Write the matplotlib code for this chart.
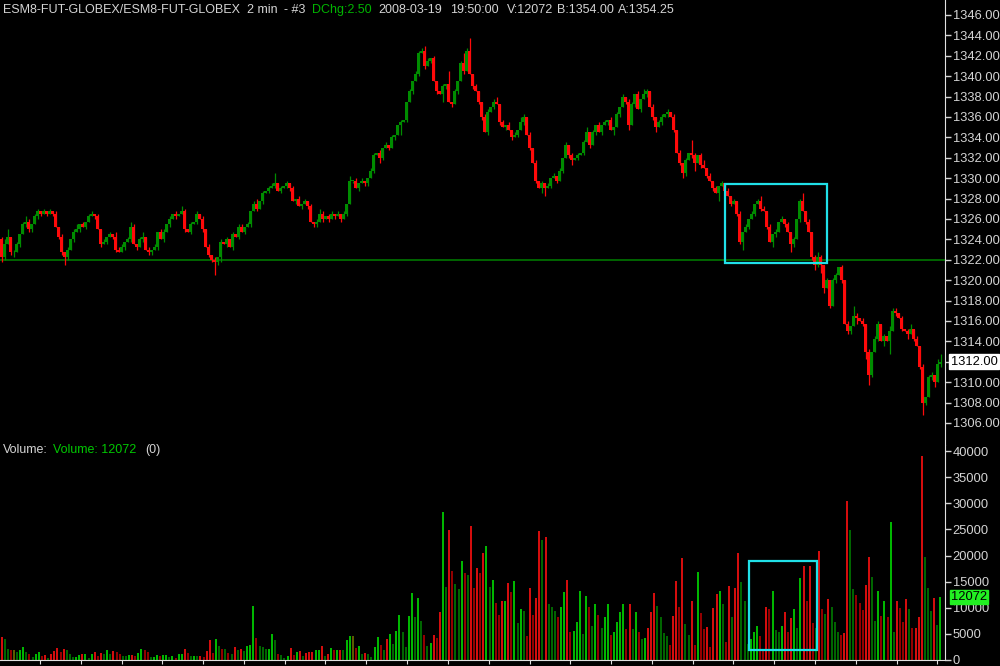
import numpy as np
import matplotlib
matplotlib.use('Agg')
import matplotlib.pyplot as plt
from matplotlib.transforms import blended_transform_factory

plt.rcParams['font.family'] = ['Liberation Sans', 'DejaVu Sans']

# precios de cierre, barras de 2 min
closes = [
    1322.25, 1323.5, 1324.25, 1322.75, 1322.75, 1323.5, 1324.5, 1325.5, 1325.75, 1325.0,
    1325.5, 1326.25, 1326.75, 1326.5, 1326.75, 1326.5, 1326.75, 1326.5, 1325.25, 1324.25,
    1322.75, 1322.25, 1323.0, 1324.0, 1324.75, 1325.0, 1325.5, 1325.25, 1325.75, 1326.25,
    1326.5, 1326.25, 1325.0, 1323.5, 1323.75, 1324.25, 1324.5, 1324.25, 1323.0, 1322.75,
    1323.25, 1323.75, 1324.0, 1325.25, 1323.5, 1323.25, 1324.0, 1324.25, 1323.0, 1322.75,
    1323.0, 1323.25, 1324.75, 1324.0, 1324.75, 1325.5, 1326.0, 1326.5, 1326.25, 1326.5,
    1326.75, 1325.0, 1324.75, 1325.5, 1325.75, 1326.5, 1326.0, 1325.0, 1323.25, 1322.5,
    1322.0, 1321.75, 1322.25, 1323.75, 1323.5, 1324.0, 1323.25, 1324.5, 1324.25, 1325.25,
    1324.75, 1325.25, 1325.5, 1326.75, 1327.5, 1327.0, 1327.75, 1328.5, 1328.75, 1329.0,
    1329.25, 1329.5, 1328.75, 1329.0, 1329.25, 1329.5, 1329.0, 1327.75, 1328.0, 1327.25,
    1327.5, 1327.75, 1327.25, 1325.75, 1325.5, 1325.75, 1326.5, 1326.0, 1326.25, 1326.0,
    1326.5, 1326.25, 1326.5, 1326.0, 1326.5, 1327.5, 1329.75, 1329.75, 1329.0, 1329.5,
    1329.75, 1329.5, 1330.0, 1330.75, 1332.25, 1332.5, 1332.0, 1333.0, 1333.25, 1333.0,
    1334.0, 1334.25, 1335.25, 1335.5, 1335.75, 1337.5, 1338.5, 1339.5, 1340.25, 1342.25,
    1342.5, 1341.0, 1341.5, 1341.75, 1339.5, 1338.5, 1338.25, 1339.0, 1339.25, 1337.5,
    1337.25, 1338.5, 1339.5, 1341.25, 1340.5, 1342.5, 1340.25, 1339.0, 1338.5, 1337.5,
    1336.0, 1334.5, 1336.5, 1337.0, 1337.5, 1337.25, 1335.5, 1335.0, 1335.25, 1334.75,
    1334.0, 1334.25, 1334.75, 1335.5, 1336.0, 1334.25, 1333.0, 1331.5, 1329.75, 1329.0,
    1329.5, 1329.0, 1329.25, 1330.0, 1330.25, 1329.75, 1330.75, 1332.0, 1333.25, 1332.25,
    1331.75, 1332.0, 1332.25, 1332.5, 1333.5, 1334.5, 1333.25, 1334.5, 1335.25, 1334.5,
    1335.25, 1335.5, 1335.75, 1334.75, 1335.0, 1336.25, 1337.0, 1338.0, 1337.5, 1335.25,
    1337.25, 1338.25, 1336.75, 1337.75, 1338.25, 1338.5, 1337.0, 1336.0, 1335.0, 1335.5,
    1336.0, 1336.25, 1336.5, 1336.0, 1334.75, 1332.5, 1331.5, 1330.5, 1331.75, 1332.5,
    1332.25, 1331.5, 1332.25, 1331.25, 1331.0, 1330.25, 1329.75, 1329.0, 1328.5, 1329.25,
    1329.5, 1328.75, 1328.25, 1327.5, 1327.75, 1326.5, 1323.75, 1324.75, 1325.25, 1326.0,
    1326.5, 1327.5, 1327.75, 1327.0, 1326.75, 1325.25, 1323.75, 1324.5, 1324.75, 1325.75,
    1326.0, 1325.5, 1324.75, 1323.5, 1324.0, 1326.0, 1327.75, 1326.75, 1325.75, 1324.75,
    1322.25, 1321.5, 1322.25, 1321.5, 1319.25, 1320.0, 1317.5, 1320.0, 1320.5, 1321.25,
    1320.0, 1315.75, 1315.0, 1315.5, 1316.5, 1316.25, 1316.0, 1315.75, 1313.0, 1310.75,
    1313.0, 1314.25, 1315.75, 1314.0, 1314.5, 1314.0, 1315.0, 1317.0, 1316.75, 1316.25,
    1315.25, 1315.0, 1314.75, 1315.25, 1314.25, 1313.5, 1311.5, 1308.0, 1308.5, 1310.5,
    1310.75, 1310.0, 1311.75, 1312.0,
]
first_open = 1324.0

# mechas en ticks de 0.25
up_ticks = [
    1, 2, 3, 0, 1, 1, 0, 1, 2, 1,  0, 1, 1, 0, 1, 0, 1, 0, 1, 0,
    1, 0, 1, 0, 1, 2, 0, 1, 0, 1,  1, 0, 1, 0, 1, 0, 1, 0, 2, 1,
    1, 0, 1, 2, 1, 0, 1, 2, 0, 1,  0, 1, 0, 1, 1, 0, 1, 0, 1, 0,
    2, 1, 0, 1, 0, 1, 0, 1, 0, 1,  0, 1, 0, 1, 0, 1, 0, 1, 0, 1,
    1, 0, 1, 0, 1, 2, 0, 1, 0, 1,  1, 4, 0, 1, 0, 1, 0, 1, 0, 1,
    0, 1, 0, 1, 0, 1, 2, 1, 0, 1,  1, 0, 1, 0, 1, 0, 2, 0, 1, 0,
    1, 0, 0, 1, 1, 0, 1, 0, 1, 0,  1, 0, 0, 1, 0, 0, 1, 0, 1, 1,
    1, 2, 1, 0, 1, 0, 0, 1, 0, 5,  0, 1, 0, 1, 4, 1, 5, 0, 1, 0,
    0, 1, 1, 0, 1, 2, 0, 1, 0, 1,  0, 1, 0, 2, 1, 0, 1, 0, 1, 0,
    1, 0, 1, 0, 1, 0, 1, 0, 1, 0,  1, 0, 1, 0, 1, 2, 0, 1, 0, 1,
    0, 1, 0, 1, 0, 1, 0, 1, 0, 1,  1, 0, 1, 0, 2, 1, 0, 1, 0, 1,
    1, 0, 1, 0, 1, 0, 1, 0, 1, 0,  5, 1, 0, 1, 2, 0, 1, 0, 1, 0,
    1, 0, 1, 0, 1, 0, 1, 0, 1, 0,  1, 0, 1, 2, 1, 0, 1, 0, 1, 0,
    1, 0, 1, 0, 1, 0, 1, 3, 0, 1,  0, 1, 2, 1, 0, 1, 0, 1, 1, 0,
    1, 0, 1, 0, 4, 1, 0, 1, 0, 1,  0, 1, 1, 0, 1, 0, 2, 1, 1, 0,
    1, 0, 1, 2, 0, 1, 0, 1, 0, 1,  1, 0, 2, 3,
]
dn_ticks = [
    2, 1, 0, 1, 2, 0, 1, 0, 1, 1,  1, 0, 1, 1, 0, 1, 0, 1, 0, 1,
    1, 3, 1, 0, 1, 0, 1, 0, 1, 0,  0, 1, 0, 1, 0, 1, 0, 1, 1, 0,
    0, 1, 0, 1, 0, 1, 0, 1, 0, 1,  1, 0, 1, 0, 1, 0, 1, 0, 1, 0,
    0, 1, 0, 1, 0, 1, 0, 1, 0, 1,  1, 5, 1, 2, 0, 1, 0, 1, 0, 1,
    0, 1, 0, 1, 0, 1, 0, 1, 0, 1,  0, 1, 0, 1, 0, 1, 1, 0, 1, 0,
    1, 0, 1, 0, 1, 1, 0, 1, 0, 1,  0, 1, 0, 1, 0, 1, 0, 1, 0, 1,
    0, 1, 1, 0, 1, 0, 2, 1, 0, 1,  0, 1, 0, 4, 0, 1, 0, 1, 0, 1,
    0, 1, 0, 1, 0, 1, 0, 3, 1, 0,  1, 0, 1, 0, 1, 0, 0, 1, 0, 1,
    1, 0, 1, 0, 1, 0, 1, 0, 1, 0,  1, 0, 1, 0, 1, 0, 1, 0, 1, 0,
    2, 3, 0, 1, 0, 1, 0, 1, 0, 1,  2, 0, 1, 0, 1, 0, 1, 0, 1, 0,
    1, 0, 1, 0, 2, 0, 1, 0, 1, 2,  0, 1, 0, 1, 0, 1, 0, 1, 2, 0,
    1, 0, 1, 0, 1, 0, 1, 2, 1, 0,  1, 3, 0, 1, 0, 1, 0, 1, 0, 3,
    0, 1, 0, 1, 0, 1, 1, 3, 0, 1,  0, 1, 0, 1, 0, 1, 0, 2, 1, 0,
    0, 1, 0, 3, 1, 0, 1, 0, 1, 0,  1, 2, 1, 3, 2, 0, 1, 0, 1, 0,
    1, 0, 1, 1, 0, 2, 0, 1, 3, 4,  1, 0, 1, 0, 2, 0, 5, 0, 1, 0,
    1, 0, 2, 0, 1, 0, 1, 5, 1, 0,  1, 2, 0, 1,
]

volumes = [
    4400, 4000, 2200, 1850, 1850, 1600, 1850, 2550, 1600, 1100,
    600, 1100, 1550, 750, 950, 450, 1200, 1700, 2350, 1600,
    2200, 1850, 1100, 600, 600, 950, 1100, 1200, 450, 1100,
    1600, 700, 1400, 1100, 1850, 1100, 1700, 1600, 1100, 750,
    700, 900, 950, 750, 1350, 2050, 1900, 1600, 600, 600,
    900, 700, 1000, 1000, 600, 700, 450, 1200, 1200, 2200,
    1300, 750, 850, 700, 700, 600, 1700, 3900, 1400, 4000,
    2600, 2100, 2050, 1350, 1100, 2500, 1850, 2200, 1700, 2600,
    2950, 10300, 4300, 2700, 2500, 2050, 2050, 5000, 3750, 1100,
    900, 450, 700, 2350, 950, 1600, 1700, 700, 1400, 1550,
    1550, 1850, 2000, 2700, 850, 1100, 2350, 1900, 1900, 1900,
    1850, 3800, 4600, 4600, 2350, 2700, 1100, 1350, 1100, 600,
    2550, 4400, 2850, 1850, 4000, 5000, 3000, 5550, 8600,
    5400, 2500, 8400, 12800, 8300, 11900, 7500, 4800, 2700, 3200,
    4800, 4200, 9100, 28400, 14000, 24900, 17000, 14500, 13600, 18900,
    16700, 16300, 25700, 13800, 17700, 16700, 20500, 21800, 14000, 15300,
    11000, 8600, 11200, 11300, 14700, 13000, 15200, 7100, 9800, 9400,
    4500, 13700, 8600, 11800, 24600, 23000, 23500, 10800, 10200, 9400,
    8300, 10100, 13000, 15400, 5400, 5600, 7300, 13200, 5000, 12200,
    10200, 6600, 10700, 8600, 6200, 8200, 10700, 4800, 5400, 7200,
    9200, 10800, 5900, 10800, 5900, 9100, 5400, 4000, 4300, 6100,
    9200, 12800, 10400, 8300, 5100, 4600, 2900, 8400, 15100, 10100,
    19600, 6800, 4800, 11300, 2900, 16800, 8900, 5900, 6400, 2500,
    10000, 12600, 13200, 10700, 3400, 14200, 8300, 13800, 20400, 15000,
    11300, 3000, 4000, 5400, 6600, 4600, 2000, 10100, 9700, 13200,
    5700, 5400, 6600, 9200, 5400, 8000, 9800, 6100, 15600, 18000,
    11300, 18000, 7000, 6200, 20900, 9700, 8800, 11700, 10100, 7300,
    5400, 4800, 5100, 30400, 24900, 13600, 12400, 11000, 9600, 14300,
    19800, 15800, 7500, 13300, 8400, 11300, 8200, 26500, 5400, 11200,
    10000, 7300, 11600, 9800, 6200, 6200, 8200, 39100, 19800, 13800,
    9400, 11900, 6700, 12072,
]

price_ticks = np.arange(1306, 1347, 2)
volume_ticks = np.arange(0, 40001, 5000)
ref_line = 1322.0
last_price = 1312.00
last_volume = 12072

GRAY = '#d4d4d4'
UP = '#008c00'
DOWN = '#ff0a0a'
CYAN = '#20e0e8'

n = min(len(closes), len(up_ticks), len(dn_ticks))
c = np.array(closes[:n])
o = np.concatenate([[first_open], c[:-1]])
hi = np.maximum(o, c) + 0.25 * np.array(up_ticks[:n])
lo = np.minimum(o, c) - 0.25 * np.array(dn_ticks[:n])
x = np.arange(n)
up = c >= o
cols = np.where(up, UP, DOWN)

fig = plt.figure(figsize=(10, 6.66), dpi=100, facecolor='black')
ax = fig.add_axes([0, 1 - 445 / 666, 0.945, 445 / 666])
axv = fig.add_axes([0, 6 / 666, 0.945, 215 / 666])

for a in (ax, axv):
    a.set_facecolor('black')
    for s in ('left', 'top'):
        a.spines[s].set_visible(False)
    a.spines['right'].set_color('#e0e0e0')
    a.yaxis.tick_right()
    a.tick_params(axis='y', colors=GRAY, labelsize=9.3, length=4, width=1, pad=1.5)
    a.set_xlim(-0.5, n + 0.5)

# velas
ax.vlines(x, lo, hi, colors=cols, lw=0.9, zorder=2)
body = np.maximum(np.abs(c - o), 0.06)
ax.bar(x, body, bottom=np.minimum(o, c), width=0.85, color=cols, linewidth=0, zorder=3)
ax.axhline(ref_line, color='#008000', lw=1.1, zorder=1)
ax.add_patch(plt.Rectangle((241.3, 1321.7), 34.0, 7.7, fill=False,
                           edgecolor=CYAN, lw=1.6, zorder=4))

ax.set_ylim(1306 + (423 - 445) / 10.2, 1306 + 423 / 10.2)
ax.set_yticks(price_ticks)
ax.set_yticklabels(['' if p == last_price else '%.2f' % p for p in price_ticks])
ax.set_xticks([])
ax.spines['bottom'].set_visible(False)

# volumen
nv = len(volumes)
vx = np.arange(nv) * n / nv
vol = np.array(volumes)
idx = np.clip(np.round(vx).astype(int), 0, n - 1)
prev = np.concatenate([[vol[0]], vol[:-1]])
vcols = []
for k in range(nv):
    bright = vol[k] >= prev[k]
    if c[idx[k]] == o[idx[k]]:
        vcols.append('#6e6e00')
    elif up[idx[k]]:
        vcols.append('#00dd00' if bright else '#007a00')
    else:
        vcols.append('#ff1010' if bright else '#b00000')
axv.vlines(vx, 0, vol, colors=vcols, lw=1.2)
axv.add_patch(plt.Rectangle((249.3, 1900), 22.4, 17050, fill=False,
                            edgecolor=CYAN, lw=1.6, zorder=4))

axv.set_ylim(0, 215 * 40000 / 209)
axv.set_yticks(volume_ticks)
axv.set_yticklabels([str(v) for v in volume_ticks])
axv.spines['bottom'].set_color('#e0e0e0')
axv.set_xticks(np.arange(12.8, n, 13.6))
axv.tick_params(axis='x', colors='#e0e0e0', length=3, labelbottom=False)

# etiquetas del ultimo valor
tr = blended_transform_factory(ax.transAxes, ax.transData)
ax.text(1.006, last_price, '%.2f' % last_price, transform=tr, va='center', ha='left',
        fontsize=9.3, color='black', clip_on=False, zorder=6,
        bbox=dict(facecolor='white', edgecolor='white', pad=1.0))
trv = blended_transform_factory(axv.transAxes, axv.transData)
axv.text(1.006, last_volume, str(last_volume), transform=trv, va='center', ha='left',
         fontsize=9.3, color='black', clip_on=False, zorder=6,
         bbox=dict(facecolor='#22f022', edgecolor='#22f022', pad=0.8))

# textos de cabecera
def ftext(px, py, s, color=GRAY):
    fig.text(px / 1000, 1 - py / 666, s, color=color, fontsize=9, va='center', ha='left')

ftext(3, 10, 'ESM8-FUT-GLOBEX/ESM8-FUT-GLOBEX')
ftext(247, 10, '2 min')
ftext(284, 10, '- #3')
ftext(312, 10, 'DChg:2.50', '#00b400')
ftext(378, 10, '2008-03-19')
ftext(450, 10, '19:50:00')
ftext(507, 10, 'V:12072')
ftext(557, 10, 'B:1354.00')
ftext(618, 10, 'A:1354.25')

ftext(3, 450, 'Volume:')
ftext(53, 450, 'Volume: 12072', '#00c800')
ftext(145, 450, '(0)')

fig.savefig('out.png', dpi=100, facecolor='black')
